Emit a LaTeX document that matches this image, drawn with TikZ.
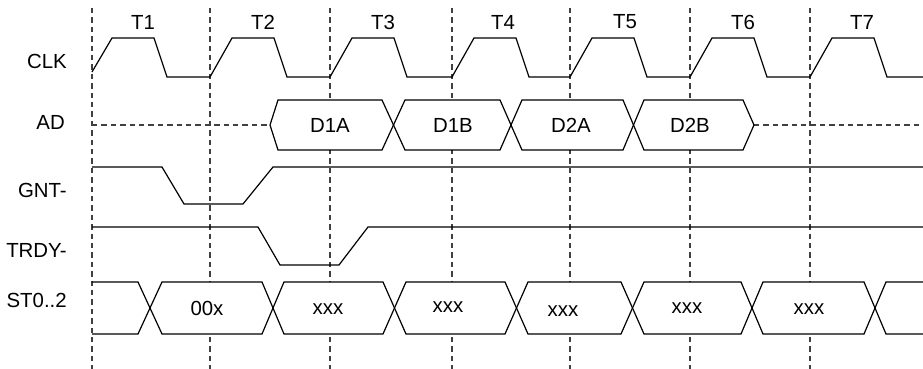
\documentclass[tikz,border=0pt]{standalone}
\usepackage{fontspec}
\setmainfont{Liberation Sans}
\usetikzlibrary{arrows}

\begin{document}
\begin{tikzpicture}[x=0.5pt,y=-0.5pt,line width=0.6pt,
	font=\fontsize{10.2}{12}\selectfont,
	grid/.style={dash pattern=on 2.7pt off 2pt,black!75,line width=0.55pt},
	bus/.style={draw,fill=white}]
	\useasboundingbox (0,0) rectangle (923,369);
	% clock edges
	\draw[grid] (92,8)--(92,369);
	\draw[grid] (210,8)--(210,369);
	\draw[grid] (330,8)--(330,369);
	\draw[grid] (452,8)--(452,369);
	\draw[grid] (570,8)--(570,369);
	\draw[grid] (690,8)--(690,369);
	\draw[grid] (810,8)--(810,369);
	% cycles
	\node (t1) at (143,22) {T1};
	\node (t2) at (263,22) {T2};
	\node (t3) at (383,22) {T3};
	\node (t4) at (503,22) {T4};
	\node (t5) at (625,22) {T5};
	\node (t6) at (743,22) {T6};
	\node (t7) at (862,22) {T7};
	% signal names
	\node[anchor=east] (clk) at (74,61) {CLK};
	\node[anchor=east] (ad) at (72,122) {AD};
	\node[anchor=east] (gnt) at (74,190) {GNT-};
	\node[anchor=east] (trdy) at (74,250) {TRDY-};
	\node[anchor=east] (st) at (74,300) {ST0..2};
	% CLK
	\draw (92,72)--(112,38)--(154,38)--(167,77)--(210,77)--(232,38)--(274,38)--(287,77)
		--(330,77)--(352,38)--(394,38)--(407,77)--(452,77)--(474,38)--(516,38)--(529,77)
		--(570,77)--(592,38)--(634,38)--(647,77)--(690,77)--(712,38)--(754,38)--(767,77)
		--(810,77)--(832,38)--(874,38)--(887,77)--(923,77);
	% AD
	\draw[grid] (92,125)--(270,125);
	\draw[grid] (754,125)--(923,125);
	\draw[bus] (270,125)--(278,100)--(382,100)--(393.5,125)--(382,150)--(278,150)--cycle;
	\draw[bus] (393.5,125)--(405,100)--(500,100)--(511,125)--(500,150)--(405,150)--cycle;
	\draw[bus] (511,125)--(522,100)--(623,100)--(633.5,125)--(623,150)--(522,150)--cycle;
	\draw[bus] (633.5,125)--(644,100)--(743,100)--(754,125)--(743,150)--(644,150)--cycle;
	\node (d1a) at (330,125) {D1A};
	\node (d1b) at (453,125) {D1B};
	\node (d2a) at (571,125) {D2A};
	\node (d2b) at (690,125) {D2B};
	% GNT-
	\draw (92,167)--(162,167)--(184,204)--(243,204)--(273,167)--(923,167);
	% TRDY-
	\draw (92,227)--(258,227)--(280,265)--(339,265)--(368,227)--(923,227);
	% ST0..2
	\fill[white] (93.5,282)--(138,282)--(150,308)--(138,334)--(93.5,334)--cycle;
	\draw (92,282)--(138,282)--(150,308)--(138,334)--(92,334);
	\draw[bus] (150,308)--(162,282)--(262,282)--(273,308)--(262,334)--(162,334)--cycle;
	\draw[bus] (273,308)--(284,282)--(383,282)--(394.5,308)--(383,334)--(284,334)--cycle;
	\draw[bus] (394.5,308)--(406,282)--(505,282)--(516.5,308)--(505,334)--(406,334)--cycle;
	\draw[bus] (516.5,308)--(528,282)--(621,282)--(632.5,308)--(621,334)--(528,334)--cycle;
	\draw[bus] (632.5,308)--(644,282)--(741,282)--(752,308)--(741,334)--(644,334)--cycle;
	\draw[bus] (752,308)--(763,282)--(864,282)--(875,308)--(864,334)--(763,334)--cycle;
	\draw[bus] (923,282)--(886,282)--(875,308)--(886,334)--(923,334);
	\node (s1) at (207,308) {00x};
	\node (s2) at (328,309) {xxx};
	\node (s3) at (448,307) {xxx};
	\node (s4) at (563,311) {xxx};
	\node (s5) at (687,308) {xxx};
	\node (s6) at (809,309) {xxx};
\end{tikzpicture}
\end{document}
